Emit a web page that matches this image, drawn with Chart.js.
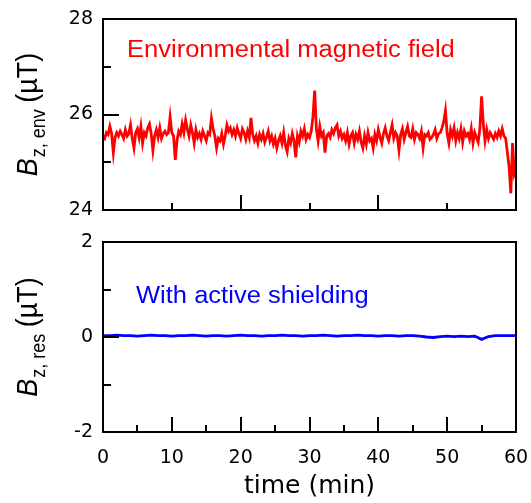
<!DOCTYPE html>
<html>
<head>
<meta charset="utf-8">
<script src="https://cdn.jsdelivr.net/npm/chart.js@4.4.0/dist/chart.umd.min.js"></script>
<style>
  html, body { margin: 0; padding: 0; background: #fff; }
  #wrap { position: relative; width: 531px; height: 503px; }
  #chartEnv { position: absolute; left: 0; top: 0; }
  #chartRes { position: absolute; left: 0; top: 225px; }
</style>
</head>
<body>
<div id="wrap">
  <canvas id="chartEnv" width="531" height="225"></canvas>
  <canvas id="chartRes" width="531" height="278"></canvas>
</div>
<script>
// ----------------------------------------------------------
// data
// ----------------------------------------------------------
// sample spacing in minutes
const ENV_STEP = 0.25
const RES_STEP = 1

// Bz,env (uT), one row per minute
const envField = [
  25.55, 25.50, 25.62, 25.58,  25.75, 25.60, 25.20, 25.52,  25.62, 25.55, 25.65, 25.58,
  25.50, 25.68, 25.55, 25.60,  25.78, 25.50, 25.30, 25.62,  25.70, 25.52, 25.75, 25.40,
  25.62, 25.55, 25.72, 25.80,  25.60, 25.25, 25.55, 25.68,  25.52, 25.72, 25.50, 25.60,
  25.65, 25.58, 25.62, 25.95,  25.62, 25.55, 25.05, 25.45,  25.65, 25.58, 25.80, 25.62,
  25.88, 25.70, 25.55, 25.78,  25.62, 25.40, 25.68, 25.52,  25.60, 25.48, 25.65, 25.55,
  25.45, 25.62, 25.58, 25.92,  25.70, 25.55, 25.30, 25.50,  25.45, 25.60, 25.38, 25.55,
  25.78, 25.65, 25.72, 25.58,  25.68, 25.55, 25.72, 25.60,  25.50, 25.70, 25.62, 25.48,
  25.65, 25.52, 25.93, 25.58,  25.45, 25.55, 25.40, 25.58,  25.48, 25.60, 25.42, 25.52,
  25.65, 25.45, 25.55, 25.38,  25.50, 25.30, 25.45, 25.55,  25.40, 25.62, 25.35, 25.22,
  25.50, 25.40, 25.60, 25.45,  25.10, 25.55, 25.42, 25.65,  25.55, 25.70, 25.48, 25.58,
  25.52, 25.65, 25.95, 26.50,  25.70, 25.45, 25.75, 25.55,  25.62, 25.20, 25.55, 25.60,
  25.52, 25.68, 25.60, 25.72,  25.78, 25.55, 25.65, 25.50,  25.58, 25.45, 25.62, 25.38,
  25.55, 25.62, 25.40, 25.58,  25.48, 25.65, 25.42, 25.30,  25.55, 25.38, 25.62, 25.45,
  25.50, 25.30, 25.58, 25.45,  25.68, 25.52, 25.40, 25.60,  25.72, 25.55, 25.45, 25.62,
  25.78, 25.50, 25.62, 25.55,  25.25, 25.58, 25.70, 25.48,  25.62, 25.75, 25.55, 25.52,
  25.70, 25.48, 25.62, 25.58,  25.50, 25.65, 25.30, 25.58,  25.55, 25.62, 25.48, 25.52,
  25.58, 25.68, 25.50, 25.60,  25.62, 25.72, 25.85, 26.08,  25.60, 25.40, 25.68, 25.55,
  25.72, 25.45, 25.62, 25.50,  25.70, 25.42, 25.65, 25.55,  25.60, 25.48, 25.70, 25.40,
  25.62, 25.52, 25.42, 25.70,  26.38, 25.80, 25.45, 25.68,  25.50, 25.62, 25.55, 25.48,
  25.60, 25.52, 25.65, 25.55,  25.70, 25.55, 25.50, 25.20,  24.90, 24.35, 25.40, 24.75,
  24.85
]

// Bz,res (uT) with active shielding, one per minute
const resField = [
  0.03, 0.03, 0.04, 0.03, 0.03, 0.02, 0.03, 0.04, 0.03, 0.03,
  0.02, 0.03, 0.03, 0.04, 0.03, 0.02, 0.03, 0.03, 0.02, 0.03,
  0.04, 0.03, 0.03, 0.02, 0.03, 0.03, 0.04, 0.03, 0.03, 0.02,
  0.03, 0.03, 0.04, 0.03, 0.02, 0.03, 0.03, 0.04, 0.03, 0.03,
  0.02, 0.03, 0.03, 0.02, 0.03, 0.03, 0.02, 0.00, -0.01, 0.01,
  0.02, 0.01, 0.02, 0.01, 0.02, -0.05, 0.01, 0.03, 0.03, 0.03,
  0.03
]

// axis ranges and tick values
const timeRange = [0, 60]
const envRange = [24, 28]
const resRange = [-2, 2]
const envMajorY = [26]
const envMinorY = [25, 27]
const envLongX = [20, 40]
const envShortX = [10, 30, 50]
const resMajorY = [0]
const resMinorY = [-1, 1]
const resLongX = [10, 20, 30, 40, 50]
const resShortX = [5, 15, 25, 35, 45, 55]

const toPoints = (vals, step) => vals.map((v, i) => ({ x: i * step, y: v }))

// ----------------------------------------------------------
// plugin: box frame, inward ticks, y label, annotation
// ----------------------------------------------------------
const framePlugin = {
  id: 'frame',
  afterDatasetsDraw(chart, args, o) {
    const { ctx, chartArea: a, scales: { x, y } } = chart
    ctx.save()
    ctx.strokeStyle = '#000'
    ctx.lineWidth = 2
    ctx.strokeRect(a.left, a.top, a.right - a.left, a.bottom - a.top)

    ctx.beginPath()
    const yMark = (vals, len) => vals.forEach(v => {
      const p = Math.round(y.getPixelForValue(v))
      ctx.moveTo(a.left, p); ctx.lineTo(a.left + len, p)
    })
    const xMark = (vals, len) => vals.forEach(v => {
      const p = Math.round(x.getPixelForValue(v))
      ctx.moveTo(p, a.bottom); ctx.lineTo(p, a.bottom - len)
    })
    yMark(o.yLong, 16); yMark(o.yShort, 8)
    xMark(o.xLong, 15); xMark(o.xShort, 7)
    ctx.stroke()

    // figure is stretched horizontally, mimic it
    const sx = 1.11

    // annotation
    ctx.save()
    ctx.translate(o.note.x, o.note.y)
    ctx.scale(sx, 1)
    ctx.fillStyle = o.note.color
    ctx.font = '23px "Liberation Sans", Arial, sans-serif'
    ctx.textBaseline = 'alphabetic'
    ctx.fillText(o.note.text, 0, 0)
    ctx.restore()

    // y label: B (italic) + subscript + unit, rotated
    const cy = (a.top + a.bottom) / 2
    const mainF = '27px "Liberation Sans", Arial, sans-serif'
    const italF = 'italic 27px "Liberation Sans", Arial, sans-serif'
    const subF = '18px "Liberation Sans", Arial, sans-serif'
    ctx.save()
    ctx.translate(37, cy)
    ctx.scale(sx, 1)
    ctx.rotate(-Math.PI / 2)
    ctx.fillStyle = '#000'
    ctx.textBaseline = 'alphabetic'
    ctx.font = italF; const wB = ctx.measureText('B').width
    ctx.font = subF; const wS = ctx.measureText(o.sub).width
    ctx.font = mainF; const wU = ctx.measureText(' (µT)').width
    let u = -(wB + wS + wU) / 2
    ctx.font = italF; ctx.fillText('B', u, 0); u += wB + 1
    ctx.font = subF; ctx.fillText(o.sub, u, 7); u += wS - 1
    ctx.font = mainF; ctx.fillText(' (µT)', u, 0)
    ctx.restore()

    ctx.restore()
  }
}

const tickFont = { family: 'DejaVu Sans', size: 19 }

function makeChart(id, c) {
  return new Chart(document.getElementById(id), {
    type: 'line',
    data: {
      datasets: [{
        data: c.points,
        borderColor: c.color,
        borderWidth: 2.8,
        pointRadius: 0,
        tension: 0
      }]
    },
    options: {
      responsive: false,
      animation: false,
      events: [],
      layout: { padding: { top: c.padTop, right: 15, left: 0, bottom: 0 } },
      plugins: {
        legend: { display: false },
        tooltip: { enabled: false },
        frame: c.frame
      },
      scales: {
        x: {
          type: 'linear',
          min: timeRange[0], max: timeRange[1],
          grid: { display: false, drawTicks: true, tickLength: 15 },
          border: { display: false },
          ticks: { display: c.showX, stepSize: 10, padding: 0, color: '#000', font: tickFont, maxRotation: 0 },
          title: {
            display: c.showX, text: 'time (min)', color: '#000',
            font: { family: 'DejaVu Sans', size: 25 }, padding: { top: 0, bottom: 2 }
          },
          afterFit: s => { s.height = c.xHeight }
        },
        y: {
          min: c.range[0], max: c.range[1],
          grid: { display: false, drawTicks: true, tickLength: 10 },
          border: { display: false },
          ticks: { stepSize: 2, padding: 0, color: '#000', font: tickFont },
          afterFit: s => { s.width = 103 }
        }
      }
    },
    plugins: [framePlugin]
  })
}

makeChart('chartEnv', {
  points: toPoints(envField, ENV_STEP),
  color: '#ff0000',
  range: envRange,
  padTop: 19,
  xHeight: 15,
  showX: false,
  frame: {
    yLong: envMajorY, yShort: envMinorY,
    xLong: envLongX, xShort: envShortX,
    sub: 'z, env',
    note: { text: 'Environmental magnetic field', x: 127, y: 57, color: '#ff0000' }
  }
})

makeChart('chartRes', {
  points: toPoints(resField, RES_STEP),
  color: '#0000ff',
  range: resRange,
  padTop: 17,
  xHeight: 71,
  showX: true,
  frame: {
    yLong: resMajorY, yShort: resMinorY,
    xLong: resLongX, xShort: resShortX,
    sub: 'z, res',
    note: { text: 'With active shielding', x: 136, y: 78, color: '#0000ff' }
  }
})
</script>
</body>
</html>
